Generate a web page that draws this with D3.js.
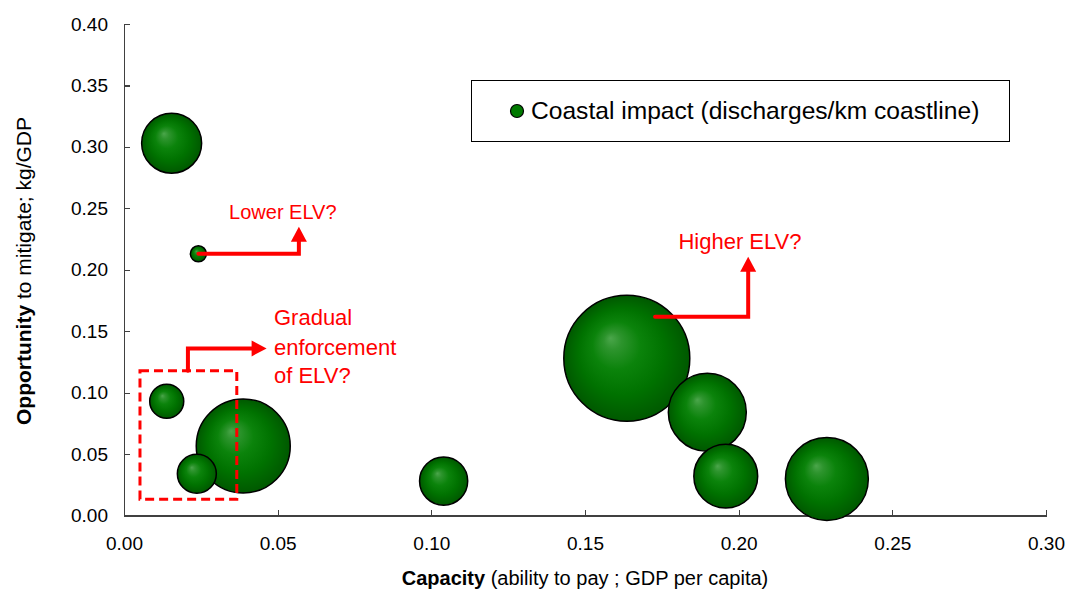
<!DOCTYPE html>
<html>
<head>
<meta charset="utf-8">
<script src="https://cdn.jsdelivr.net/npm/d3@7"></script>
<style>
	body{margin:0;background:#fff;}
	svg{display:block;font-family:"Liberation Sans",Arial,sans-serif;}
	.axis path,.axis line{stroke:#404040;stroke-width:1.2px;shape-rendering:crispEdges;}
	.axis text{font-size:19px;fill:#000;}
	.annotation{font-size:22px;fill:#ff0000;}
	.arrowLine{fill:none;stroke:#ff0000;stroke-width:4px;}
</style>
</head>
<body>
<div id="chart"></div>
<script>

// bubble data (capacity, opportunity, coastal impact)
var CAPACITY    = [0.0155,0.0242,0.0139,0.0237,0.0388,0.1040,0.1636,0.1898,0.1958,0.2287];
var OPPORTUNITY = [0.303 ,0.213 ,0.093 ,0.034 ,0.0566,0.028 ,0.128 ,0.084 ,0.032 ,0.0297];
var IMPACT      = [90    ,6.4   ,29    ,38    ,221   ,58    ,397   ,152   ,102   ,172   ];

var X_TICKS = [0,0.05,0.10,0.15,0.20,0.25,0.30];
var Y_TICKS = [0,0.05,0.10,0.15,0.20,0.25,0.30,0.35,0.40];

var LEGEND_LABEL = "Coastal impact (discharges/km coastline)";

// annotations, all in data units
var ARROW_LOWER   = [[0.0242,0.213],[0.0569,0.213],[0.0569,0.235]];
var ARROW_HIGHER  = [[0.1728,0.1618],[0.2031,0.1618],[0.2031,0.2106]];
var ARROW_GRADUAL = [[0.0208,0.1178],[0.0208,0.136],[0.0464,0.136]];
var GRADUAL_BOX   = [0.0052,0.0132,0.0367,0.1178];	// x0,y0,x1,y1

var WIDTH=1069, HEIGHT=595;
var margin = {left:124, top:24, right:23, bottom:79.5};
var width = WIDTH-margin.left-margin.right;
var height = HEIGHT-margin.top-margin.bottom;

var x = d3.scaleLinear().domain([0,0.30]).range([0,width]);
var y = d3.scaleLinear().domain([0,0.40]).range([height,0]);
var r = d3.scaleSqrt().domain([0,d3.max(IMPACT)]).range([0,63]);

var svg = d3.select("#chart").append("svg")
	.attr("width",WIDTH)
	.attr("height",HEIGHT);

var defs = svg.append("defs");
var grad = defs.append("radialGradient")
	.attr("id","bubbleGradient")
	.attr("cx","50%").attr("cy","50%").attr("r","50%")
	.attr("fx","37%").attr("fy","34%");
[["0%","#4ba64b"],["14%","#2d942d"],["38%","#0b830b"],["68%","#007200"],["100%","#005800"]].forEach(function(s){
	grad.append("stop").attr("offset",s[0]).attr("stop-color",s[1]);
});

var g = svg.append("g").attr("transform","translate("+margin.left+","+margin.top+")");

drawAxes();
drawBubbles();
drawAnnotations();
drawLegend();


function drawAxes(){
	g.append("g").attr("class","axis")
		.attr("transform","translate(0,"+height+")")
		.call(d3.axisBottom(x).tickValues(X_TICKS).tickFormat(d3.format(".2f")).tickSize(-6).tickSizeOuter(0).tickPadding(21));

	g.append("g").attr("class","axis")
		.call(d3.axisLeft(y).tickValues(Y_TICKS).tickFormat(d3.format(".2f")).tickSize(-6).tickSizeOuter(0).tickPadding(16));

	// x title
	var tx = svg.append("text")
		.attr("x",margin.left+width/2)
		.attr("y",585)
		.style("text-anchor","middle")
		.style("font-size","20px");
	tx.append("tspan").style("font-weight","bold").text("Capacity");
	tx.append("tspan").text(" (ability to pay ; GDP per capita)");

	// y title
	var ty = svg.append("text")
		.attr("transform","translate(31,271) rotate(-90)")
		.style("text-anchor","middle")
		.style("font-size","21px");
	ty.append("tspan").style("font-weight","bold").text("Opportunity");
	ty.append("tspan").text(" to mitigate; kg/GDP");
}

function drawBubbles(){
	var data = CAPACITY.map(function(c,i){ return {x:c,y:OPPORTUNITY[i],size:IMPACT[i]}; });
	// large ones first so small bubbles stay visible
	data.sort(function(a,b){ return b.size-a.size; });

	g.append("g").attr("id","bubbles")
		.selectAll("circle")
		.data(data)
		.enter().append("circle")
		.attr("cx",function(d){ return x(d.x); })
		.attr("cy",function(d){ return y(d.y); })
		.attr("r",function(d){ return r(d.size); })
		.style("fill","url(#bubbleGradient)")
		.style("stroke","#000")
		.style("stroke-width",1.5);
}

function drawAnnotations(){
	var gA = g.append("g").attr("id","annotations");

	_drawArrow(gA,ARROW_LOWER);
	_drawArrow(gA,ARROW_HIGHER);
	_drawArrow(gA,ARROW_GRADUAL);

	gA.append("rect")
		.attr("x",x(GRADUAL_BOX[0]))
		.attr("y",y(GRADUAL_BOX[3]))
		.attr("width",x(GRADUAL_BOX[2])-x(GRADUAL_BOX[0]))
		.attr("height",y(GRADUAL_BOX[1])-y(GRADUAL_BOX[3]))
		.style("fill","none")
		.style("stroke","#ff0000")
		.style("stroke-width",3)
		.style("stroke-dasharray","9,5");

	_drawText(gA,"Lower ELV?",0.0342,0.241,"20px");
	_drawText(gA,"Higher ELV?",0.1804,0.2166);
	_drawText(gA,"Gradual",0.0488,0.155);
	_drawText(gA,"enforcement",0.0488,0.1306);
	_drawText(gA,"of ELV?",0.0488,0.1078);
}

function drawLegend(){
	var gL = svg.append("g").attr("id","legend");
	gL.append("rect")
		.attr("x",471.5).attr("y",80.5)
		.attr("width",538).attr("height",61)
		.style("fill","#fff")
		.style("stroke","#000")
		.style("stroke-width",1);
	gL.append("circle")
		.attr("cx",517).attr("cy",111)
		.attr("r",6.5)
		.style("fill","#007a00")
		.style("stroke","#000")
		.style("stroke-width",1.2);
	gL.append("text")
		.attr("x",531).attr("y",119)
		.style("font-size","24.6px")
		.text(LEGEND_LABEL);
}

/* ----------------------------- helpers ----------------------------- */
		function _drawArrow(svg,pts){
			var p = pts.map(function(d){ return [x(d[0]),y(d[1])]; });
			var last = p[p.length-1], prev = p[p.length-2];
			var dx = last[0]-prev[0], dy = last[1]-prev[1];
			var len = Math.sqrt(dx*dx+dy*dy);
			var ux = dx/len, uy = dy/len;
			var headL = 15, headW = 8;
			var base = [last[0]-ux*headL,last[1]-uy*headL];
			var line = p.slice(0,p.length-1).concat([[base[0]+ux*1,base[1]+uy*1]]);

			svg.append("path")
				.attr("d",d3.line()(line))
				.attr("class","arrowLine")
				.style("stroke-linecap","round");
			svg.append("path")
				.attr("d",d3.line()([last,[base[0]-uy*headW,base[1]+ux*headW],[base[0]+uy*headW,base[1]-ux*headW]])+"Z")
				.style("fill","#ff0000");
		}

		function _drawText(svg,text,dx,dy,size){
			var t = svg.append("text")
				.text(text)
				.attr("class","annotation")
				.attr("x",x(dx))
				.attr("y",y(dy));
			if (size) t.style("font-size",size);
		}

</script>
</body>
</html>
